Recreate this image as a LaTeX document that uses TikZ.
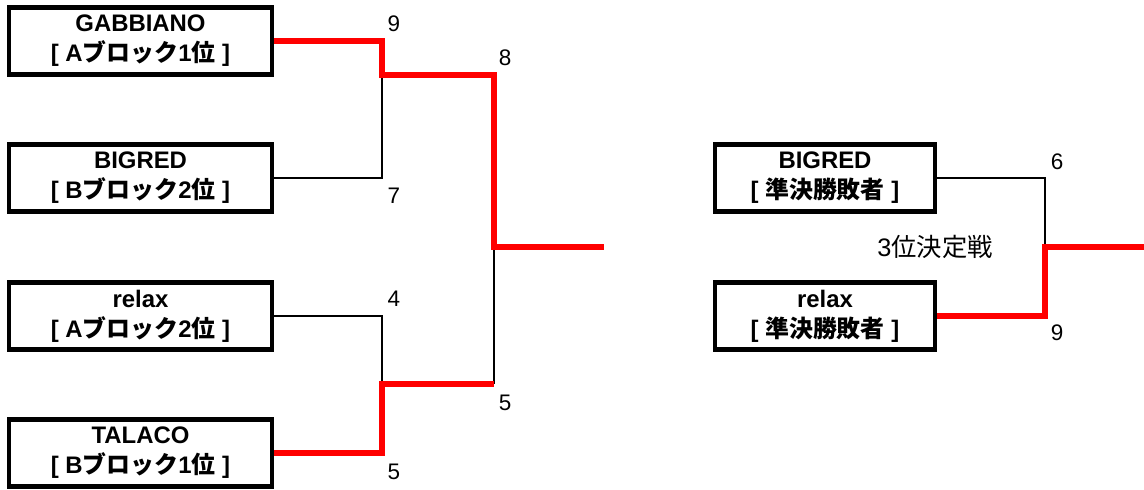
\documentclass[tikz,border=0pt]{standalone}
\usepackage{fontspec}
\setmainfont{Liberation Sans}
\newfontfamily\jp{Noto Sans CJK JP}
\usetikzlibrary{calc}

\begin{document}
\begin{tikzpicture}[x=0.025cm,y=-0.025cm,
  team/.style={draw,line width=3.3pt,minimum width=6.575cm,minimum height=1.675cm,inner sep=0pt,
    align=center,font=\fontsize{17}{21.3}\selectfont\bfseries},
  team3/.style={team,minimum width=5.5cm},
  score/.style={font=\fontsize{16}{18}\selectfont},
  lose/.style={line width=1.7pt},
  win/.style={red,line width=4pt}]
\useasboundingbox (0,0) rectangle (1144,490);
\node (gab) at (140.5,41) [team] {GABBIANO\\{[} A{\jp ブロック}1{\jp 位} ]};
\node (big) at (140.5,178) [team] {BIGRED\\{[} B{\jp ブロック}2{\jp 位} ]};
\node (rel) at (140.5,316) [team] {relax\\{[} A{\jp ブロック}2{\jp 位} ]};
\node (tal) at (140.5,453) [team] {TALACO\\{[} B{\jp ブロック}1{\jp 位} ]};
\node (big3) at (825,178) [team3] {BIGRED\\{[} {\jp 準決勝敗者} ]};
\node (rel3) at (825,316) [team3] {relax\\{[} {\jp 準決勝敗者} ]};
\coordinate (q1) at (382,75);
\coordinate (q2) at (382,384);
\coordinate (s1) at (494,75);
\coordinate (s2) at (494,384);
\coordinate (f) at (494,247);
\coordinate (fend) at (604,247);
\coordinate (t) at (1045,247);
\coordinate (tend) at (1144,247);
% losing lines
\draw [lose] (big.east) -| (q1);
\draw [lose] (rel.east) -| (q2);
\draw [lose] (s2) -- (f);
\draw [lose] (big3.east) -| (t);
% winning lines
\draw [win] (gab.east) -| (q1) -- (s1) -- (f) -- (fend);
\draw [win] (tal.east) -| (q2) -- (s2);
\draw [win] (rel3.east) -| (t) -- (tend);
% scores
\node (sgab) at (394,24) [score] {9};
\node (sbig) at (394,196) [score] {7};
\node (srel) at (394,299) [score] {4};
\node (stal) at (394,472) [score] {5};
\node (ssf1) at (505,58) [score] {8};
\node (ssf2) at (505,403) [score] {5};
\node (sbig3) at (1057,162) [score] {6};
\node (srel3) at (1057,333) [score] {9};
\node (third) at (935,247) [score,font=\fontsize{18}{20}\selectfont] {3{\jp 位決定戦}};
\end{tikzpicture}
\end{document}
